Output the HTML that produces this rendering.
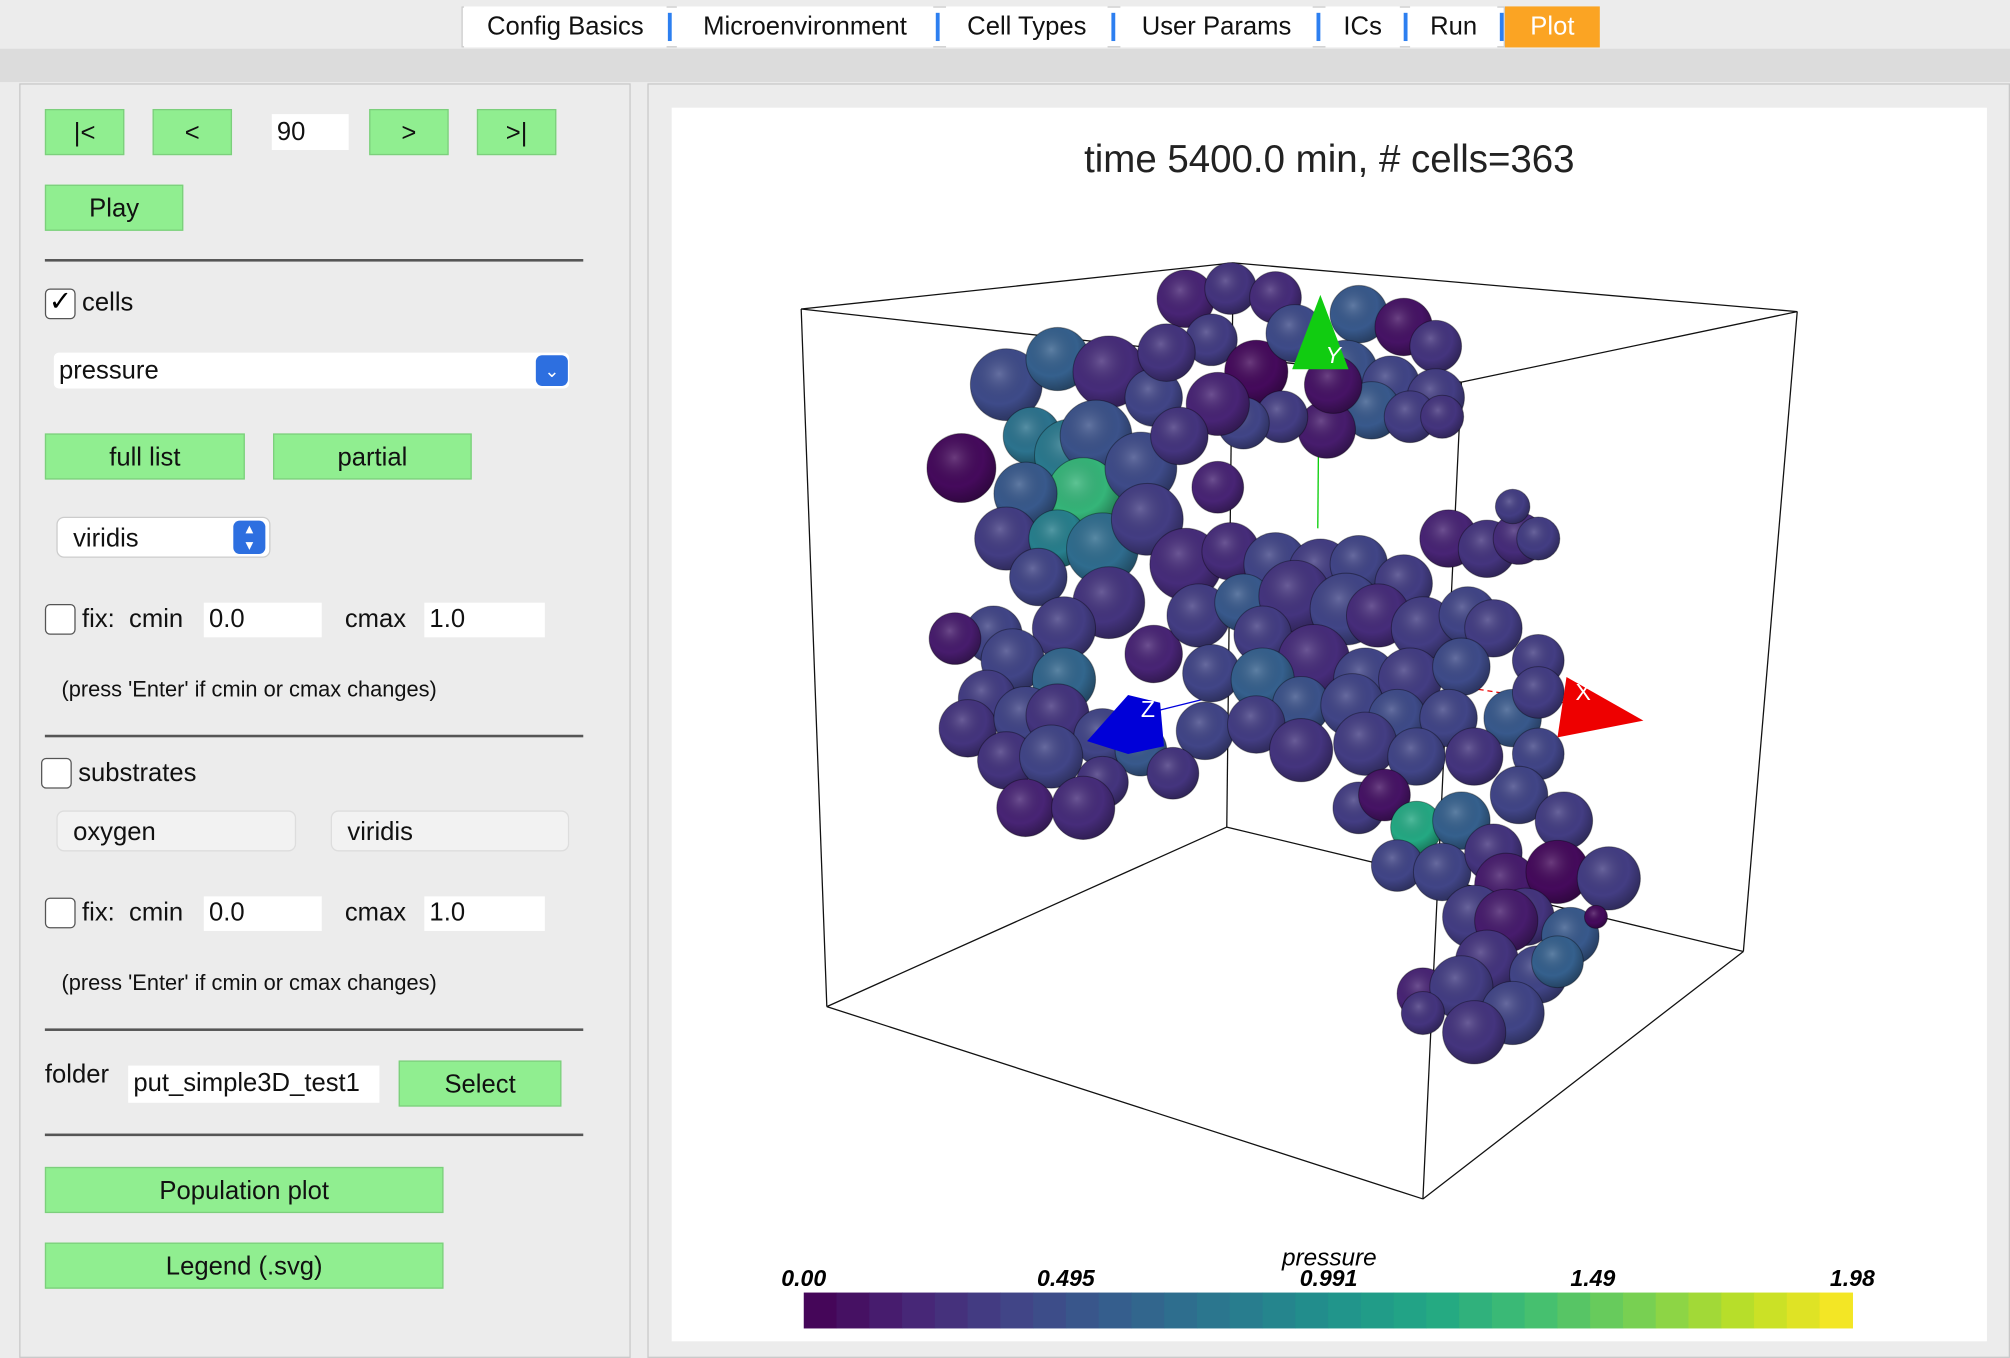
<!DOCTYPE html>
<html><head><meta charset="utf-8">
<style>
html,body{margin:0;padding:0;width:2010px;height:1358px;overflow:hidden;background:#ececec;font-family:"Liberation Sans",sans-serif;}
#wrap{position:absolute;left:0;top:0;width:1568px;height:1059px;transform:scale(1.2819,1.2823);transform-origin:0 0;}
.a{position:absolute;}
.btn{position:absolute;background:#90ee90;border:1px solid #7ccf7c;box-sizing:border-box;font-size:20px;color:#111;text-align:center;}
.inp{position:absolute;background:#fff;box-sizing:border-box;font-size:20px;color:#111;padding-left:4px;}
.hr{position:absolute;left:35px;width:420px;height:2px;background:#555;}
.cb{position:absolute;width:24px;height:24px;border:1.5px solid #555;background:#fff;border-radius:4px;box-sizing:border-box;}
.t{position:absolute;font-size:20px;color:#111;white-space:nowrap;}
.tab{position:absolute;top:5px;height:32px;line-height:32px;font-size:20px;color:#111;text-align:center;background:#fff;}
</style></head><body>
<div id="wrap">
<div class="a" style="left:0;top:0;width:1568px;height:38px;background:#ececec"></div>
<div class="a" style="left:0;top:38px;width:1568px;height:26px;background:#dcdcdc"></div>
<div class="a" style="left:360px;top:5px;width:814px;height:32px;background:#fff;border:1px solid #ccc;box-sizing:border-box"></div>
<div class="tab" style="left:362px;width:158px">Config Basics</div>
<div class="tab" style="left:528px;width:200px">Microenvironment</div>
<div class="tab" style="left:738px;width:126px">Cell Types</div>
<div class="tab" style="left:874px;width:150px">User Params</div>
<div class="tab" style="left:1034px;width:58px">ICs</div>
<div class="tab" style="left:1100px;width:68px">Run</div>
<div class="tab" style="left:1174px;width:74px;background:#fba423;color:#fff">Plot</div>
<div class="a" style="left:521px;top:10px;width:3px;height:22px;background:#2d7ff0"></div>
<div class="a" style="left:730px;top:10px;width:3px;height:22px;background:#2d7ff0"></div>
<div class="a" style="left:867px;top:10px;width:3px;height:22px;background:#2d7ff0"></div>
<div class="a" style="left:1027px;top:10px;width:3px;height:22px;background:#2d7ff0"></div>
<div class="a" style="left:1095px;top:10px;width:3px;height:22px;background:#2d7ff0"></div>
<div class="a" style="left:1170px;top:10px;width:3px;height:22px;background:#2d7ff0"></div>

<div class="a" style="left:15px;top:65px;width:477px;height:994px;background:#ececec;border:1px solid #c8c8c8;box-sizing:border-box"></div>
<div class="a" style="left:505px;top:65px;width:1063px;height:994px;background:#ececec;border:1px solid #c8c8c8;box-sizing:border-box"></div>

<div class="btn" style="left:35px;top:85px;width:62px;height:36px;line-height:36px">|&lt;</div>
<div class="btn" style="left:119px;top:85px;width:62px;height:36px;line-height:36px">&lt;</div>
<div class="inp" style="left:212px;top:89px;width:60px;height:28px;line-height:28px">90</div>
<div class="btn" style="left:288px;top:85px;width:62px;height:36px;line-height:36px">&gt;</div>
<div class="btn" style="left:372px;top:85px;width:62px;height:36px;line-height:36px">&gt;|</div>
<div class="btn" style="left:35px;top:144px;width:108px;height:36px;line-height:36px">Play</div>
<div class="hr" style="top:202px"></div>
<div class="cb" style="left:35px;top:225px"><span style="position:absolute;left:2px;top:-4px;font-size:22px">✓</span></div>
<div class="t" style="left:64px;top:225px">cells</div>
<div class="inp" style="left:42px;top:275px;width:402px;height:28px;line-height:28px;border-radius:4px">pressure</div>
<div class="a" style="left:418px;top:277px;width:25px;height:24px;background:#2d6fe0;border-radius:5px;color:#fff;font-size:14px;text-align:center;line-height:24px">⌄</div>
<div class="btn" style="left:35px;top:338px;width:156px;height:36px;line-height:36px">full list</div>
<div class="btn" style="left:213px;top:338px;width:155px;height:36px;line-height:36px">partial</div>
<div class="inp" style="left:44px;top:403px;width:167px;height:32px;line-height:32px;border-radius:6px;padding-left:12px;border:1px solid #ccc">viridis</div>
<div class="a" style="left:182px;top:406px;width:25px;height:26px;background:#2d6fe0;border-radius:5px;color:#fff;font-size:12px;text-align:center;line-height:13px">▴<br>▾</div>
<div class="cb" style="left:35px;top:471px"></div>
<div class="t" style="left:64px;top:472px">fix:&nbsp; cmin</div>
<div class="inp" style="left:159px;top:470px;width:92px;height:27px;line-height:27px">0.0</div>
<div class="t" style="left:269px;top:472px">cmax</div>
<div class="inp" style="left:331px;top:470px;width:94px;height:27px;line-height:27px">1.0</div>
<div class="t" style="left:48px;top:528px;font-size:17px">(press 'Enter' if cmin or cmax changes)</div>
<div class="hr" style="top:573px"></div>
<div class="cb" style="left:32px;top:591px"></div>
<div class="t" style="left:61px;top:592px">substrates</div>
<div class="inp" style="left:44px;top:632px;width:187px;height:32px;line-height:32px;border-radius:6px;padding-left:12px;background:#f2f2f2;border:1px solid #ddd">oxygen</div>
<div class="inp" style="left:258px;top:632px;width:186px;height:32px;line-height:32px;border-radius:6px;padding-left:12px;background:#f2f2f2;border:1px solid #ddd">viridis</div>
<div class="cb" style="left:35px;top:700px"></div>
<div class="t" style="left:64px;top:701px">fix:&nbsp; cmin</div>
<div class="inp" style="left:159px;top:699px;width:92px;height:27px;line-height:27px">0.0</div>
<div class="t" style="left:269px;top:701px">cmax</div>
<div class="inp" style="left:331px;top:699px;width:94px;height:27px;line-height:27px">1.0</div>
<div class="t" style="left:48px;top:757px;font-size:17px">(press 'Enter' if cmin or cmax changes)</div>
<div class="hr" style="top:802px"></div>
<div class="t" style="left:35px;top:827px">folder</div>
<div class="inp" style="left:100px;top:831px;width:196px;height:29px;line-height:29px;overflow:hidden">put_simple3D_test1</div>
<div class="btn" style="left:311px;top:827px;width:127px;height:36px;line-height:36px">Select</div>
<div class="hr" style="top:884px"></div>
<div class="btn" style="left:35px;top:910px;width:311px;height:36px;line-height:36px">Population plot</div>
<div class="btn" style="left:35px;top:969px;width:311px;height:36px;line-height:36px">Legend (.svg)</div>

<div class="a" style="left:524px;top:84px;width:1026px;height:962px;background:#fff"></div>
<svg class="a" style="left:0;top:0" width="1568" height="1059" id="chart"></svg>
</div>
<script>
// cell data: screen-projected x, y, radius, pressure value
const cellX=[925,960,995,1060,1095,1120,945,980,1010,1050,1085,1120,1070,1035,1000,970,950,1100,1125,1040,
750,785,825,865,900,910,805,835,855,845,800,890,920,950,785,825,860,895,925,810,865,830,900,775,745,
960,995,1030,1060,1095,1130,1160,1185,1200,1180,935,970,1010,1050,1075,1110,1145,1165,1200,985,1025,1065,1100,1140,945,985,1015,1055,1090,1130,1180,1200,940,980,1015,1065,1105,1150,1200,
790,830,770,755,800,825,860,890,785,820,860,915,800,845,
1060,1080,1105,1140,1185,1220,1090,1125,1165,1175,1215,1255,1150,1190,1225,1175,1160,1200,1215,1110,1140,1180,1150,1110,1245];
const cellY=[233,225,232,245,255,270,265,290,260,290,300,310,320,335,325,330,315,325,325,300,
365,300,280,290,310,275,340,355,340,385,385,365,340,380,420,420,428,405,440,450,470,490,510,495,498,
430,440,445,440,455,420,428,420,420,395,480,470,465,475,480,490,480,490,515,495,515,530,530,520,525,530,550,550,560,560,560,540,570,565,585,580,590,590,588,
515,530,545,568,560,558,575,585,593,590,610,603,630,630,
630,620,645,640,620,640,675,680,665,690,680,685,715,715,730,718,750,760,750,775,770,790,805,790,715];
const cellR=[20,18,18,20,20,18,18,22,20,22,20,20,20,20,18,18,22,18,15,20,
24,25,22,25,20,20,20,25,25,25,22,25,20,18,22,20,25,25,25,20,25,22,20,20,18,
20,22,22,20,20,20,20,18,15,12,22,20,25,25,22,22,20,20,18,20,25,22,22,20,20,22,20,22,20,20,20,18,20,20,22,22,20,20,18,
22,22,20,20,22,22,20,18,20,22,18,18,20,22,
18,18,18,20,20,20,18,20,20,22,22,22,22,20,20,22,22,20,18,18,22,22,22,15,8];
const cellP=[0.2,0.3,0.25,0.55,0.1,0.3,0.35,0.05,0.45,0.5,0.4,0.35,0.55,0.15,0.35,0.4,0.2,0.35,0.3,0.1,
0.05,0.45,0.6,0.25,0.4,0.3,0.75,0.8,0.5,1.3,0.55,0.45,0.3,0.2,0.35,0.85,0.7,0.35,0.25,0.4,0.3,0.35,0.2,0.4,0.15,
0.25,0.4,0.35,0.4,0.35,0.2,0.3,0.25,0.35,0.35,0.35,0.55,0.3,0.4,0.25,0.35,0.4,0.35,0.35,0.35,0.25,0.4,0.35,0.45,0.4,0.6,0.5,0.4,0.45,0.4,0.55,0.35,0.4,0.35,0.3,0.35,0.4,0.3,0.4,
0.4,0.65,0.35,0.3,0.4,0.3,0.4,0.55,0.3,0.4,0.3,0.3,0.2,0.25,
0.35,0.1,1.2,0.6,0.4,0.35,0.4,0.4,0.3,0.15,0.05,0.35,0.35,0.3,0.55,0.15,0.3,0.4,0.6,0.2,0.35,0.4,0.3,0.3,0.05];
const tickLabels=["0.00","0.495","0.991","1.49","1.98"];
const tickValues=[0,0.495,0.991,1.49,1.98];
const cmin=0, cmax=1.98, nBins=32;

const NS="http://www.w3.org/2000/svg";
const svg=document.getElementById('chart');
const VIR=[[68,1,84],[72,36,117],[65,68,135],[53,95,141],[42,120,142],[33,145,140],[34,168,132],[68,191,112],[122,209,81],[189,223,38],[253,231,37]];
function viridis(t){t=Math.max(0,Math.min(1,t));const f=t*(VIR.length-1),i=Math.min(VIR.length-2,Math.floor(f)),u=f-i;
 const c=VIR[i].map((v,k)=>Math.round(v+(VIR[i+1][k]-v)*u));return `rgb(${c[0]},${c[1]},${c[2]})`;}
function mk(tag,attrs){const e=document.createElementNS(NS,tag);for(const k in attrs)e.setAttribute(k,attrs[k]);svg.appendChild(e);return e;}
const defs=mk('defs',{});
defs.innerHTML='<radialGradient id="sh" cx="0.4" cy="0.35" r="0.7"><stop offset="0" stop-color="#fff" stop-opacity="0.2"/><stop offset="0.6" stop-color="#000" stop-opacity="0"/><stop offset="1" stop-color="#000" stop-opacity="0.35"/></radialGradient>';
const V={A:[625,241],B:[962,205],C:[1402,243],D:[1140,298],a:[645,785],b:[957,645],c:[1360,742],d:[1110,935]};
[['A','B'],['B','C'],['C','D'],['D','A'],['a','b'],['b','c'],['c','d'],['d','a'],['A','a'],['B','b'],['C','c'],['D','d']].forEach(([p,q])=>{
 const l=mk('line',{x1:V[p][0],y1:V[p][1],x2:V[q][0],y2:V[q][1],stroke:'#111','stroke-width':1});
 
 
});
let ax=mk('line',{x1:1029,y1:285,x2:1028,y2:412,stroke:'#0c0','stroke-width':1});

ax=mk('line',{x1:1105,y1:530,x2:1220,y2:548,stroke:'#e00','stroke-width':1,'stroke-dasharray':'4 3'});

ax=mk('line',{x1:900,y1:555,x2:960,y2:540,stroke:'#00d','stroke-width':1});

const g=mk('g',{});
const rScale=1.12;
for(let i=0;i<cellX.length;i++){
 const c=document.createElementNS(NS,'circle');
 c.setAttribute('cx',cellX[i]);c.setAttribute('cy',cellY[i]);c.setAttribute('r',cellR[i]*rScale);
 c.setAttribute('fill',viridis((cellP[i]-cmin)/(cmax-cmin)));c.setAttribute('stroke','rgba(0,0,0,0.35)');c.setAttribute('stroke-width','0.8');
 
 
 g.appendChild(c);
 const s=document.createElementNS(NS,'circle');
 s.setAttribute('cx',cellX[i]);s.setAttribute('cy',cellY[i]);s.setAttribute('r',cellR[i]*rScale);s.setAttribute('fill','url(#sh)');
 
 
 g.appendChild(s);
}
let cone=mk('polygon',{points:'1030,230 1008,288 1052,288',fill:'#1c1'});

let tx=mk('text',{x:1034,y:283,'font-size':18,fill:'#fff','font-style':'italic','font-family':'Liberation Sans, sans-serif'});tx.textContent='Y';

cone=mk('polygon',{points:'1282,562 1222,528 1215,575',fill:'#e00'});

tx=mk('text',{x:1229,y:546,'font-size':18,fill:'#fff','font-family':'Liberation Sans, sans-serif'});tx.textContent='X';

cone=mk('polygon',{points:'848,578 880,542 905,548 908,582 880,588',fill:'#0000d8'});

tx=mk('text',{x:890,y:559,'font-size':18,fill:'#fff','font-family':'Liberation Sans, sans-serif'});tx.textContent='Z';

tx=mk('text',{x:1037,y:134,'font-size':30,fill:'#222','text-anchor':'middle','font-family':'Liberation Sans, sans-serif'});
tx.textContent='time 5400.0 min, # cells=363';

const cbX0=627,cbX1=1445,cbY=1008,cbH=28;
const xs=v=>cbX0+(v-cmin)/(cmax-cmin)*(cbX1-cbX0);
for(let i=0;i<nBins;i++){
 const w=(cbX1-cbX0)/nBins;
 const r=mk('rect',{x:cbX0+i*w,y:cbY,width:w+0.5,height:cbH,fill:viridis((i+0.5)/nBins)});
 
 
}
tickLabels.forEach((lab,i)=>{
 const t=mk('text',{x:xs(tickValues[i]),y:1003,'font-size':18,'font-weight':'bold','font-style':'italic','text-anchor':'middle',fill:'#000','font-family':'Liberation Sans, sans-serif'});
 t.textContent=lab;
 
 
});
tx=mk('text',{x:1037,y:987,'font-size':19,'font-style':'italic','text-anchor':'middle',fill:'#000','font-family':'Liberation Sans, sans-serif'});
tx.textContent='pressure';

</script>
</body></html>
